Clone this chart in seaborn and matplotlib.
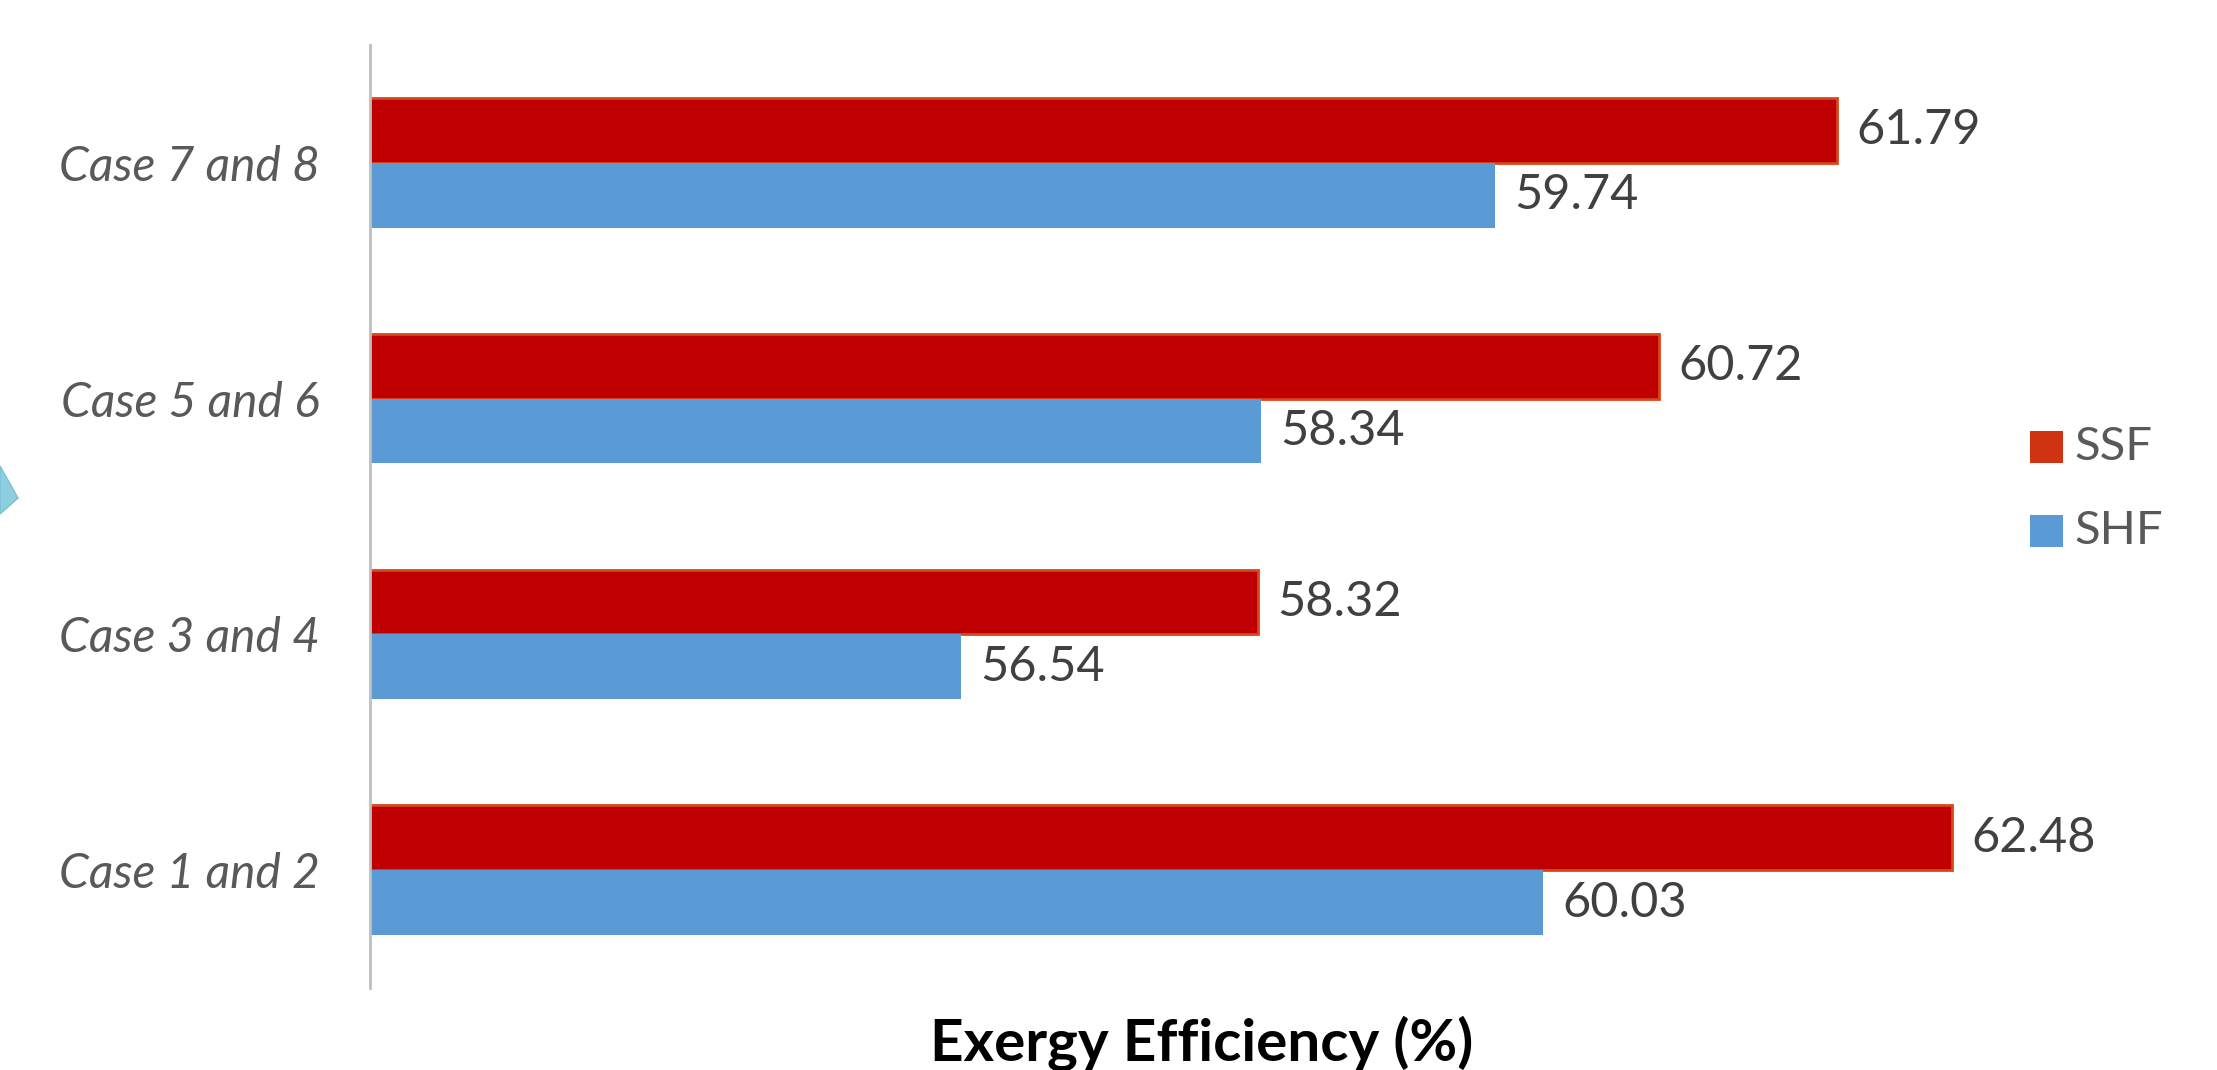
import numpy as np
import pandas as pd
import matplotlib
matplotlib.use("Agg")
import matplotlib.pyplot as plt
from matplotlib.patches import Polygon
import seaborn as sns

cases = ["Case 7 and 8", "Case 5 and 6", "Case 3 and 4", "Case 1 and 2"]
ssf = [61.79, 60.72, 58.32, 62.48]
shf = [59.74, 58.34, 56.54, 60.03]
series = ["SSF", "SHF"]
colors = {"SSF": "#C00000", "SHF": "#5B9BD5"}
edges = {"SSF": "#D8461C", "SHF": "#5B9BD5"}

df = pd.DataFrame({
    "case": cases * 2,
    "value": ssf + shf,
    "series": ["SSF"] * len(cases) + ["SHF"] * len(cases),
})

sns.set_theme(style="white")
plt.rcParams["font.family"] = ["Lato", "DejaVu Sans"]

fig = plt.figure(figsize=(22.17, 10.70), dpi=100)
ax = fig.add_axes([370 / 2217, 82 / 1070, (2206 - 370) / 2217, 943 / 1070])

sns.barplot(data=df, y="case", x="value", hue="series", order=cases,
            hue_order=series, palette=colors, orient="h", width=0.55,
            ax=ax, legend=False, saturation=1)

for cont, s in zip(ax.containers, series):
    for p in cont:
        p.set_edgecolor(edges[s])
        p.set_linewidth(2 if s == "SSF" else 0)
    ax.bar_label(cont, fmt="%.2f", padding=14, fontsize=35, color="#404040")

ax.set_xlim(53, 64)
ax.set_ylim(3.5, -0.5)
ax.set_xlabel("")
ax.set_ylabel("")
ax.set_xticks([])
for side in ["top", "right", "bottom"]:
    ax.spines[side].set_visible(False)
ax.spines["left"].set_color("#BFBFBF")
ax.spines["left"].set_linewidth(2)
ax.tick_params(axis="y", length=0, pad=36, labelsize=34.5, labelcolor="#595959")
for lab in ax.get_yticklabels():
    lab.set_fontstyle("italic")

# legend
for i, s in enumerate(series):
    yc = 447 + i * 84
    fig.patches.append(plt.Rectangle((2030 / 2217, (1070 - yc - 16) / 1070),
                                     33 / 2217, 32 / 1070,
                                     transform=fig.transFigure,
                                     facecolor="#D0330F" if s == "SSF" else "#5B9BD5",
                                     edgecolor="none"))
    fig.text(2074 / 2217, (1070 - yc) / 1070, s, fontsize=34, color="#595959",
             va="center", ha="left")

fig.text(1202 / 2217, (1070 - 1043) / 1070, "Exergy Efficiency (%)",
         fontsize=42, fontweight="bold", color="black", ha="center", va="center")

# cropped arrow tip at the left edge
tip = Polygon([(0, (1070 - 466) / 1070),
               (18 / 2217, (1070 - 498) / 1070),
               (0, (1070 - 514) / 1070)],
              closed=True, transform=fig.transFigure,
              facecolor="#8DCFE0", edgecolor="#7BBFD2", linewidth=1)
fig.patches.append(tip)

fig.savefig("out.png", dpi=100, facecolor="white")
